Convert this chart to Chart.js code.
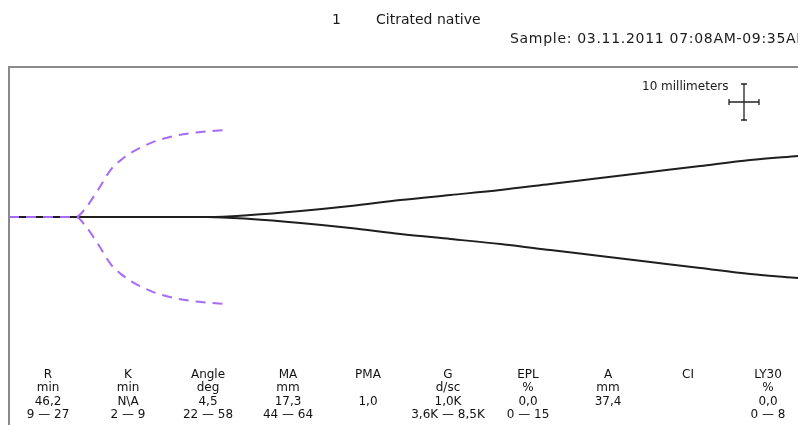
<!DOCTYPE html>
<html>
<head>
<meta charset="utf-8">
<script src="https://cdn.jsdelivr.net/npm/chart.js@4.4.0/dist/chart.umd.min.js"></script>
<style>
  html, body { margin: 0; padding: 0; background: #fff; }
  #wrap { width: 798px; height: 425px; position: relative; }
</style>
</head>
<body>
<div id="wrap"><canvas id="teg"></canvas></div>
<script>
// ===== DATA =====
// time in minutes, amplitude in mm (each side of the centre line)
const refTime = [0, 15.3, 17.1, 20.3, 23.2, 25.5, 27.8, 32.4, 37.6, 43.7, 49.9];
const refAmp  = [0, 0, 1.9, 7.5, 13.1, 15.8, 17.8, 20.6, 22.5, 23.6, 24.2];

const sampleTime = [0, 45.3, 55.1, 66.5, 77.9, 89.3, 100.7, 112.1, 123.5, 134.9, 146.3, 157.7, 169.1, 180];
const sampleAmp  = [0, 0, 0.56, 1.67, 3.06, 4.72, 6.11, 7.5, 9.17, 10.83, 12.5, 14.17, 15.83, 16.94];

const paramNames  = ['R', 'K', 'Angle', 'MA', 'PMA', 'G', 'EPL', 'A', 'CI', 'LY30'];
const paramUnits  = ['min', 'min', 'deg', 'mm', '', 'd/sc', '%', 'mm', '', '%'];
const paramValues = ['46,2', 'N\\A', '4,5', '17,3', '1,0', '1,0K', '0,0', '37,4', '', '0,0'];
const paramRanges = ['9 \u2014 27', '2 \u2014 9', '22 \u2014 58', '44 \u2014 64', '', '3,6K \u2014 8,5K', '0 \u2014 15', '', '', '0 \u2014 8'];

const sampleNo    = '1';
const sampleName  = 'Citrated native';
const sampleLabel = 'Sample: 03.11.2011 07:08AM-09:35AM';
const scaleLabel  = '10 millimeters';

const pts = (t, a, sign) => t.map((x, i) => ({ x: x, y: sign * a[i] }));

// ===== FRAME, HEADER, SCALE BAR, TABLE =====
const tegDecor = {
    id: 'tegDecor',
    beforeDraw(chart) {
        const c = chart.ctx;
        c.save();
        c.fillStyle = '#fff';
        c.fillRect(0, 0, chart.width, chart.height);
        c.restore();
    },
    afterDraw(chart) {
        const c = chart.ctx;
        const ys = chart.scales.y;
        c.save();

        // frame
        c.strokeStyle = '#8a8a8a';
        c.lineWidth = 2;
        c.beginPath();
        c.moveTo(9, chart.height);
        c.lineTo(9, 67);
        c.lineTo(chart.width, 67);
        c.stroke();

        // header
        c.fillStyle = '#1a1a1a';
        c.font = '14px "DejaVu Sans", Verdana, sans-serif';
        c.textBaseline = 'middle';
        c.textAlign = 'left';
        c.fillText(sampleNo, 332, 20);
        c.fillText(sampleName, 376, 20);
        c.letterSpacing = '0.7px';
        c.fillText(sampleLabel, 510, 39);
        c.letterSpacing = '0px';

        // 10 mm scale cross
        const cx = 744, cy = 102;
        const half = (ys.getPixelForValue(0) - ys.getPixelForValue(5));
        c.font = '12px "DejaVu Sans", Verdana, sans-serif';
        c.fillText(scaleLabel, 642, 87);
        c.strokeStyle = '#222';
        c.lineWidth = 1.3;
        c.beginPath();
        c.moveTo(cx, cy - half); c.lineTo(cx, cy + half);
        c.moveTo(cx - 15, cy); c.lineTo(cx + 15, cy);
        c.moveTo(cx - 3, cy - half); c.lineTo(cx + 3, cy - half);
        c.moveTo(cx - 3, cy + half); c.lineTo(cx + 3, cy + half);
        c.moveTo(cx - 15, cy - 3); c.lineTo(cx - 15, cy + 3);
        c.moveTo(cx + 15, cy - 3); c.lineTo(cx + 15, cy + 3);
        c.stroke();

        // parameter table
        c.fillStyle = '#111';
        c.textAlign = 'center';
        c.font = '12px "DejaVu Sans", Verdana, sans-serif';
        const rows = [paramNames, paramUnits, paramValues, paramRanges];
        rows.forEach((row, r) => {
            row.forEach((txt, i) => {
                if (txt) c.fillText(txt, 48 + 80 * i, 375 + 13.3 * r);
            });
        });
        c.restore();
    }
};

const purple = '#a66cf5';
const dark = '#1e1e1e';

new Chart(document.getElementById('teg'), {
    type: 'scatter',
    data: {
        datasets: [
            { data: pts(refTime, refAmp, 1), borderColor: purple, borderDash: [10, 7], borderWidth: 2 },
            { data: pts(refTime, refAmp, -1), borderColor: purple, borderDash: [10, 7], borderWidth: 2 },
            { data: pts(sampleTime, sampleAmp, 1), borderColor: dark, borderWidth: 2 },
            { data: pts(sampleTime, sampleAmp, -1), borderColor: dark, borderWidth: 2 }
        ].map(d => Object.assign(d, {
            showLine: true, pointRadius: 0, fill: false,
            cubicInterpolationMode: 'monotone'
        }))
    },
    options: {
        responsive: true,
        maintainAspectRatio: false,
        animation: false,
        layout: { padding: { left: 9, top: 67, right: 0, bottom: 58 } },
        scales: {
            x: { type: 'linear', min: 0, max: 180, display: false },
            y: { type: 'linear', min: -41.67, max: 41.67, display: false }
        },
        plugins: { legend: { display: false }, tooltip: { enabled: false } }
    },
    plugins: [tegDecor]
});
</script>
</body>
</html>
